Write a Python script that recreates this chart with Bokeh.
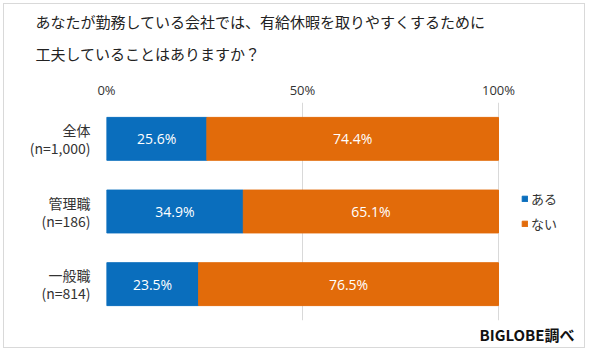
from bokeh.plotting import figure
from bokeh.models import FactorRange, FixedTicker, Legend, LegendItem, ColumnDataSource, Title
from bokeh.core.properties import value
from bokeh.embed import file_html
from bokeh.resources import INLINE

categories = ["全体\n(n=1,000)", "管理職\n(n=186)", "一般職\n(n=814)"]
aru = [25.6, 34.9, 23.5]
nai = [74.4, 65.1, 76.5]
series_names = ["ある", "ない"]
tick_values = [0, 50, 100]
tick_labels = ["0%", "50%", "100%"]
title_lines = ["あなたが勤務している会社では、有給休暇を取りやすくするために", "工夫していることはありますか？"]
source_note = "BIGLOBE調べ"

BLUE = "#0A6EBD"
ORANGE = "#E26B0A"
JP = "Noto Sans CJK JP"

# x range extends past 100% so the legend can sit inside the frame at the right
p = figure(width=582, height=345, output_backend="svg", toolbar_location=None,
           y_range=FactorRange(factors=list(reversed(categories))), x_range=(0, 122.45),
           x_axis_location="above", title_location=None,
           min_border_left=102, min_border_right=0, min_border_top=98, min_border_bottom=29)
p.styles = {"border": "1px solid #d9d9d9", "margin": "3px 0 0 3px"}
p.outline_line_color = None

src = ColumnDataSource(dict(cat=categories, aru=aru, nai=nai,
                            zero=[0] * len(aru),
                            end=[a + b for a, b in zip(aru, nai)],
                            aru_mid=[a / 2 for a in aru],
                            nai_mid=[a + b / 2 for a, b in zip(aru, nai)],
                            aru_lab=[f"{a:.1f}%" for a in aru],
                            nai_lab=[f"{b:.1f}%" for b in nai]))

r1 = p.hbar(y="cat", left="zero", right="aru", height=0.59, color=BLUE, source=src)
r2 = p.hbar(y="cat", left="aru", right="end", height=0.59, color=ORANGE, source=src)

for xcol, tcol in (("aru_mid", "aru_lab"), ("nai_mid", "nai_lab")):
    p.text(x=xcol, y="cat", text=tcol, source=src, text_align="center", text_baseline="middle",
           text_color="white", text_font_size="14px", text_font=value("Open Sans"))

ax = p.xaxis[0]
ax.ticker = FixedTicker(ticks=tick_values)
ax.major_label_overrides = dict(zip(tick_values, tick_labels))
ax.axis_line_color = None
ax.major_tick_line_color = None
ax.minor_tick_line_color = None
ax.major_tick_out = 0
ax.major_tick_in = 0
ax.major_label_standoff = 4
ax.major_label_text_font = "Open Sans"
ax.major_label_text_font_size = "13px"
ax.major_label_text_color = "#333333"

ay = p.yaxis[0]
ay.axis_line_color = None
ay.major_tick_line_color = None
ay.minor_tick_line_color = None
ay.major_tick_out = 0
ay.major_tick_in = 0
ay.major_label_standoff = 16
ay.major_label_text_font = JP
ay.major_label_text_font_size = "14px"
ay.major_label_text_line_height = 0.9
ay.major_label_text_color = "#333333"

p.xgrid.ticker = FixedTicker(ticks=tick_values)
p.xgrid.grid_line_color = "#d9d9d9"
p.ygrid.grid_line_color = None

legend = Legend(items=[LegendItem(label=series_names[0], renderers=[r1]),
                       LegendItem(label=series_names[1], renderers=[r2])],
                location=(415, 87), orientation="vertical", border_line_color=None,
                background_fill_alpha=0, padding=0, spacing=6, margin=0,
                glyph_width=7, glyph_height=7, label_height=16, label_standoff=3,
                label_text_font=JP, label_text_font_size="13px", label_text_color="#333333")
p.add_layout(legend, "center")

# inner line first (closest to plot), outer line last
p.add_layout(Title(text=title_lines[1], align="left", offset=-71, standoff=28,
                   text_font=JP, text_font_size="15px", text_font_style="normal",
                   text_color="#222222"), "above")
p.add_layout(Title(text=title_lines[0], align="left", offset=-71, standoff=-10,
                   text_font=JP, text_font_size="15px", text_font_style="normal",
                   text_color="#222222"), "above")

p.add_layout(Title(text=source_note, align="right", offset=12, standoff=2.5,
                   text_font=JP, text_font_size="15px", text_font_style="bold",
                   text_color="#111111"), "below")

open("out.html", "w").write(file_html(p, INLINE))
